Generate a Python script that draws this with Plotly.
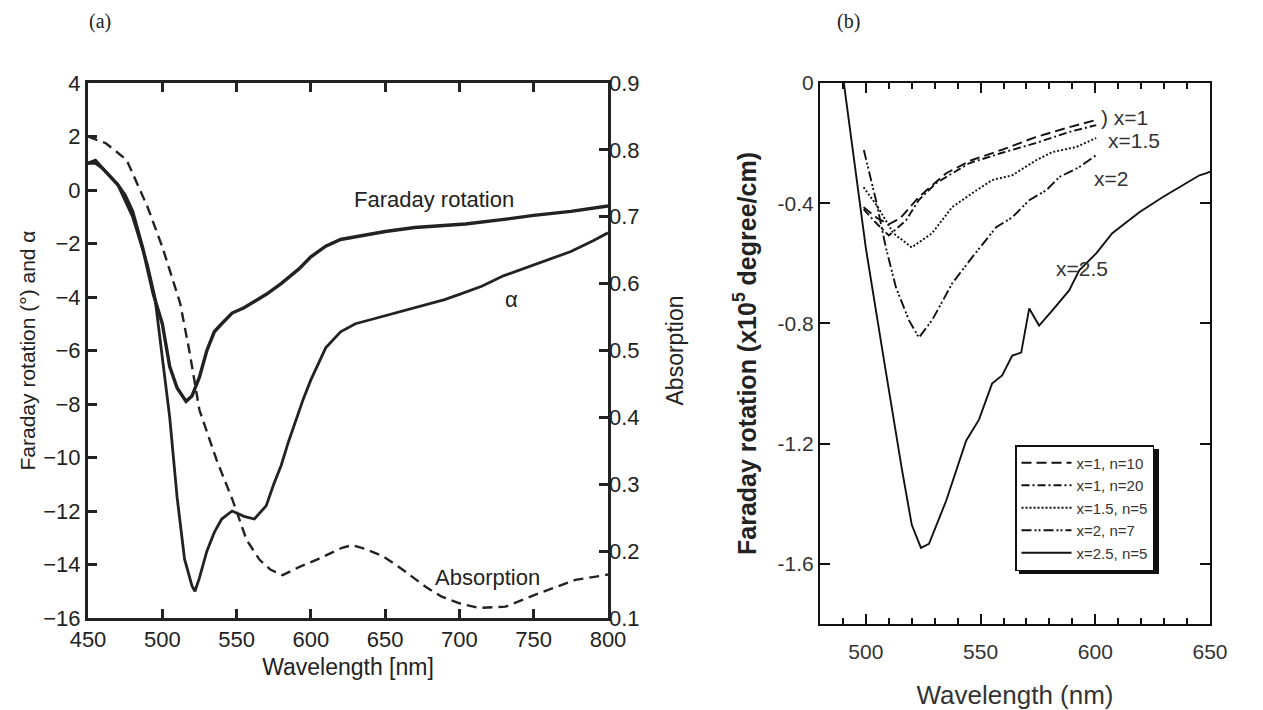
import plotly.graph_objects as go

# ---------------- Panel (a) data ----------------
fr_wl = [450, 455, 460, 465, 470, 475, 480, 487, 494, 500, 505, 510, 516, 520, 525, 530, 535, 540,
         547, 555, 570, 580, 592, 600, 610, 620, 637, 650, 670, 704, 730, 750, 775, 793, 800]
fr_val = [1.0, 1.1, 0.8, 0.5, 0.2, -0.2, -0.8, -2.2, -3.9, -5.0, -6.6, -7.4, -7.9, -7.7, -7.0, -6.0,
          -5.3, -5.0, -4.6, -4.4, -3.9, -3.5, -2.95, -2.5, -2.1, -1.85, -1.68, -1.55, -1.4, -1.27,
          -1.1, -0.95, -0.8, -0.64, -0.6]

al_wl = [450, 455, 460, 465, 470, 480, 490, 495, 500, 505, 510, 515, 520, 522, 525, 530, 535, 540,
         547, 555, 562, 570, 575, 580, 585, 590, 595, 600, 605, 610, 620, 630, 640, 650, 660, 675,
         690, 700, 715, 730, 745, 760, 775, 790, 800]
al_val = [1.0, 1.0, 0.8, 0.5, 0.2, -1.0, -2.8, -4.0, -6.2, -8.5, -11.5, -13.8, -14.8, -15.0, -14.5,
          -13.5, -12.8, -12.3, -12.0, -12.2, -12.3, -11.8, -11.0, -10.3, -9.4, -8.6, -7.8, -7.1,
          -6.5, -5.9, -5.3, -5.0, -4.85, -4.7, -4.55, -4.35, -4.1, -3.9, -3.6, -3.2, -2.9, -2.6,
          -2.3, -1.9, -1.6]

ab_wl = [450, 462, 476, 490, 500, 512, 518.5, 525, 536.6, 547.4, 556.7, 565.5, 573, 581, 592, 603.7,
         621, 628, 637, 648, 659.5, 668, 677.7, 688, 700, 713, 731, 753.6, 778, 798, 800]
ab_val = [0.82, 0.81, 0.785, 0.715, 0.655, 0.571, 0.496, 0.411, 0.336, 0.276, 0.217, 0.187, 0.172,
          0.164, 0.176, 0.187, 0.205, 0.209, 0.203, 0.193, 0.176, 0.162, 0.146, 0.132, 0.122, 0.115,
          0.117, 0.137, 0.157, 0.164, 0.165]

# ---------------- Panel (b) data ----------------
b_x1n10_wl = [499, 505, 510, 515, 523, 535, 546, 559, 574, 588.6, 600.4]
b_x1n10_val = [-0.413, -0.45, -0.47, -0.45, -0.38, -0.30, -0.257, -0.223, -0.18, -0.147, -0.123]

b_x1n20_wl = [499, 505, 510, 517.5, 523, 530.6, 545, 559, 574, 588.6, 600.4]
b_x1n20_val = [-0.42, -0.47, -0.507, -0.457, -0.39, -0.333, -0.267, -0.233, -0.20, -0.163, -0.14]

b_x15_wl = [499, 505, 512, 520, 528.8, 537.6, 546.3, 555, 563.8, 574.2, 581.2, 591.7, 600.4]
b_x15_val = [-0.347, -0.41, -0.5, -0.547, -0.5, -0.413, -0.367, -0.323, -0.307, -0.257, -0.23,
             -0.213, -0.183]

b_x2_wl = [499.1, 504.4, 508.7, 513.1, 518.8, 523.1, 528.8, 537.6, 546.3, 556.8, 563.8, 571.2,
           578.6, 584.3, 593, 600.4]
b_x2_val = [-0.223, -0.39, -0.547, -0.68, -0.79, -0.847, -0.79, -0.667, -0.58, -0.48, -0.447,
            -0.39, -0.357, -0.313, -0.28, -0.24]

b_x25_wl = [490.4, 500, 507.9, 511.4, 515.8, 520, 524, 527.5, 535, 543.7, 549.3, 555, 559.4,
            563.8, 567.7, 571.2, 575.5, 581.2, 588.6, 593, 600.4, 607.4, 619.2, 629.3, 639.7,
            645.4, 648.5, 650]
b_x25_val = [0.0, -0.55, -0.923, -1.09, -1.29, -1.47, -1.547, -1.533, -1.39, -1.19, -1.12, -1.0,
             -0.973, -0.907, -0.897, -0.75, -0.807, -0.757, -0.69, -0.623, -0.567, -0.5, -0.43,
             -0.38, -0.333, -0.307, -0.30, -0.295]

a_xticks = [450, 500, 550, 600, 650, 700, 750, 800]
a_yticks = [4, 2, 0, -2, -4, -6, -8, -10, -12, -14, -16]
a_y2ticks = [0.1, 0.2, 0.3, 0.4, 0.5, 0.6, 0.7, 0.8, 0.9]
b_xticks = [500, 550, 600, 650]
b_yticks = [0, -0.4, -0.8, -1.2, -1.6]

W, H = 1263, 710
FONT = "Liberation Sans, Arial, sans-serif"
INK = "#222222"

fig = go.Figure()

fig.add_trace(go.Scatter(x=fr_wl, y=fr_val, mode="lines", line=dict(color=INK, width=3.4),
                         showlegend=False, xaxis="x", yaxis="y"))
fig.add_trace(go.Scatter(x=al_wl, y=al_val, mode="lines", line=dict(color=INK, width=2.8),
                         showlegend=False, xaxis="x", yaxis="y"))
fig.add_trace(go.Scatter(x=ab_wl, y=ab_val, mode="lines",
                         line=dict(color=INK, width=2.4, dash="10px,6px"),
                         showlegend=False, xaxis="x", yaxis="y2"))

bstyles = [
    ("x=1, n=10", b_x1n10_wl, b_x1n10_val, "10px,5px"),
    ("x=1, n=20", b_x1n20_wl, b_x1n20_val, "8px,3px,2px,3px"),
    ("x=1.5, n=5", b_x15_wl, b_x15_val, "2px,2px"),
    ("x=2, n=7", b_x2_wl, b_x2_val, "10px,3px,2px,2px,2px,3px"),
    ("x=2.5, n=5", b_x25_wl, b_x25_val, "solid"),
]
for name, xs, ys, dash in bstyles:
    fig.add_trace(go.Scatter(x=xs, y=ys, mode="lines", name=name,
                             line=dict(color="#111111", width=1.9, dash=dash),
                             xaxis="x2", yaxis="y3"))

def px_x(p):
    return p / W

def px_y(p):
    return 1 - p / H

tickfont_a = dict(family=FONT, size=22, color=INK)
tickfont_b = dict(family=FONT, size=21, color="#333333")

fig.update_layout(
    width=W, height=H,
    margin=dict(l=0, r=0, t=0, b=0),
    paper_bgcolor="white", plot_bgcolor="white",
    font=dict(family=FONT, color=INK),
    xaxis=dict(domain=[px_x(88), px_x(608)], range=[450, 800], tickvals=a_xticks,
               ticks="inside", ticklen=9, tickwidth=3, tickcolor=INK,
               showline=True, linewidth=3, linecolor=INK, mirror="ticks",
               showgrid=False, zeroline=False, tickfont=tickfont_a, automargin=False,
               title=dict(text="Wavelength [nm]", font=dict(family=FONT, size=23, color=INK),
                          standoff=8),
               anchor="y"),
    yaxis=dict(domain=[px_y(618), px_y(83)], range=[-16, 4], tickvals=a_yticks,
               ticktext=[str(v).replace("-", "\u2212") for v in a_yticks],
               ticks="inside", ticklen=9, tickwidth=3, tickcolor=INK,
               showline=True, linewidth=3, linecolor=INK, mirror=True,
               showgrid=False, zeroline=False, tickfont=tickfont_a, automargin=False,
               title=dict(text="Faraday rotation (\u00b0) and \u03b1",
                          font=dict(family=FONT, size=21, color=INK), standoff=2),
               anchor="x"),
    yaxis2=dict(range=[0.1, 0.9], tickvals=a_y2ticks, overlaying="y", side="right",
                ticks="inside", ticklen=9, tickwidth=3, tickcolor=INK,
                showline=False, showgrid=False, zeroline=False, tickfont=tickfont_a,
                automargin=False,
                title=dict(text="Absorption", font=dict(family=FONT, size=23, color=INK),
                           standoff=28),
                anchor="x"),
    xaxis2=dict(domain=[px_x(820), px_x(1210)], range=[480, 650], tickvals=b_xticks,
                ticks="inside", ticklen=10, tickwidth=2, tickcolor="#111111",
                minor=dict(dtick=10, tick0=480, ticks="inside", ticklen=6, tickwidth=2,
                           tickcolor="#111111"),
                showline=True, linewidth=2, linecolor="#111111", mirror="ticks",
                showgrid=False, zeroline=False, tickfont=tickfont_b, automargin=False,
                ticklabelstandoff=8,
                title=dict(text="Wavelength (nm)", font=dict(family=FONT, size=26, color="#333333"),
                           standoff=26),
                anchor="y3"),
    yaxis3=dict(domain=[px_y(624), px_y(83)], range=[-1.8, 0], tickvals=b_yticks,
                ticktext=["0", "-0.4", "-0.8", "-1.2", "-1.6"],
                ticks="inside", ticklen=10, tickwidth=2, tickcolor="#111111",
                showline=True, linewidth=2, linecolor="#111111", mirror="ticks",
                showgrid=False, zeroline=False, tickfont=tickfont_b, automargin=False,
                title=dict(text="<b>Faraday rotation (x10<sup>5</sup> degree/cm)</b>",
                           font=dict(family=FONT, size=25, color="#222222"), standoff=14),
                anchor="x2"),
    legend=dict(x=px_x(1015), y=px_y(445), xanchor="left", yanchor="top",
                bgcolor="white", bordercolor="#111111", borderwidth=1.5,
                font=dict(family=FONT, size=15, color="#333333"),
                tracegroupgap=0, itemwidth=50),
    showlegend=True,
)

# drop shadow behind the legend box
fig.add_shape(type="rect", xref="paper", yref="paper",
              x0=px_x(1019), x1=px_x(1159), y0=px_y(574), y1=px_y(449),
              fillcolor="#111111", line=dict(width=0), layer="above")

ann_font = dict(family=FONT, size=22, color=INK)
fig.add_annotation(x=683, y=-0.35, xref="x", yref="y", text="Faraday rotation",
                   showarrow=False, font=ann_font)
fig.add_annotation(x=735, y=-4.1, xref="x", yref="y", text="\u03b1",
                   showarrow=False, font=ann_font)
fig.add_annotation(x=719, y=-14.5, xref="x", yref="y", text="Absorption",
                   showarrow=False, font=ann_font)

bl_font = dict(family=FONT, size=21, color="#333333")
fig.add_annotation(x=601.7, y=-0.115, xref="x2", yref="y3", text=") x=1", xanchor="left",
                   showarrow=False, font=bl_font)
fig.add_annotation(x=604.8, y=-0.19, xref="x2", yref="y3", text="x=1.5", xanchor="left",
                   showarrow=False, font=bl_font)
fig.add_annotation(x=598.7, y=-0.317, xref="x2", yref="y3", text="x=2", xanchor="left",
                   showarrow=False, font=bl_font)
fig.add_annotation(x=582, y=-0.617, xref="x2", yref="y3", text="x=2.5", xanchor="left",
                   showarrow=False, font=bl_font)

serif = dict(family="Liberation Serif, DejaVu Serif, serif", size=20, color=INK)
fig.add_annotation(x=px_x(100), y=px_y(22), xref="paper", yref="paper", text="(a)",
                   xanchor="center", yanchor="middle", showarrow=False, font=serif)
fig.add_annotation(x=px_x(848), y=px_y(22), xref="paper", yref="paper", text="(b)",
                   xanchor="center", yanchor="middle", showarrow=False, font=serif)

fig.write_html("out.html")
